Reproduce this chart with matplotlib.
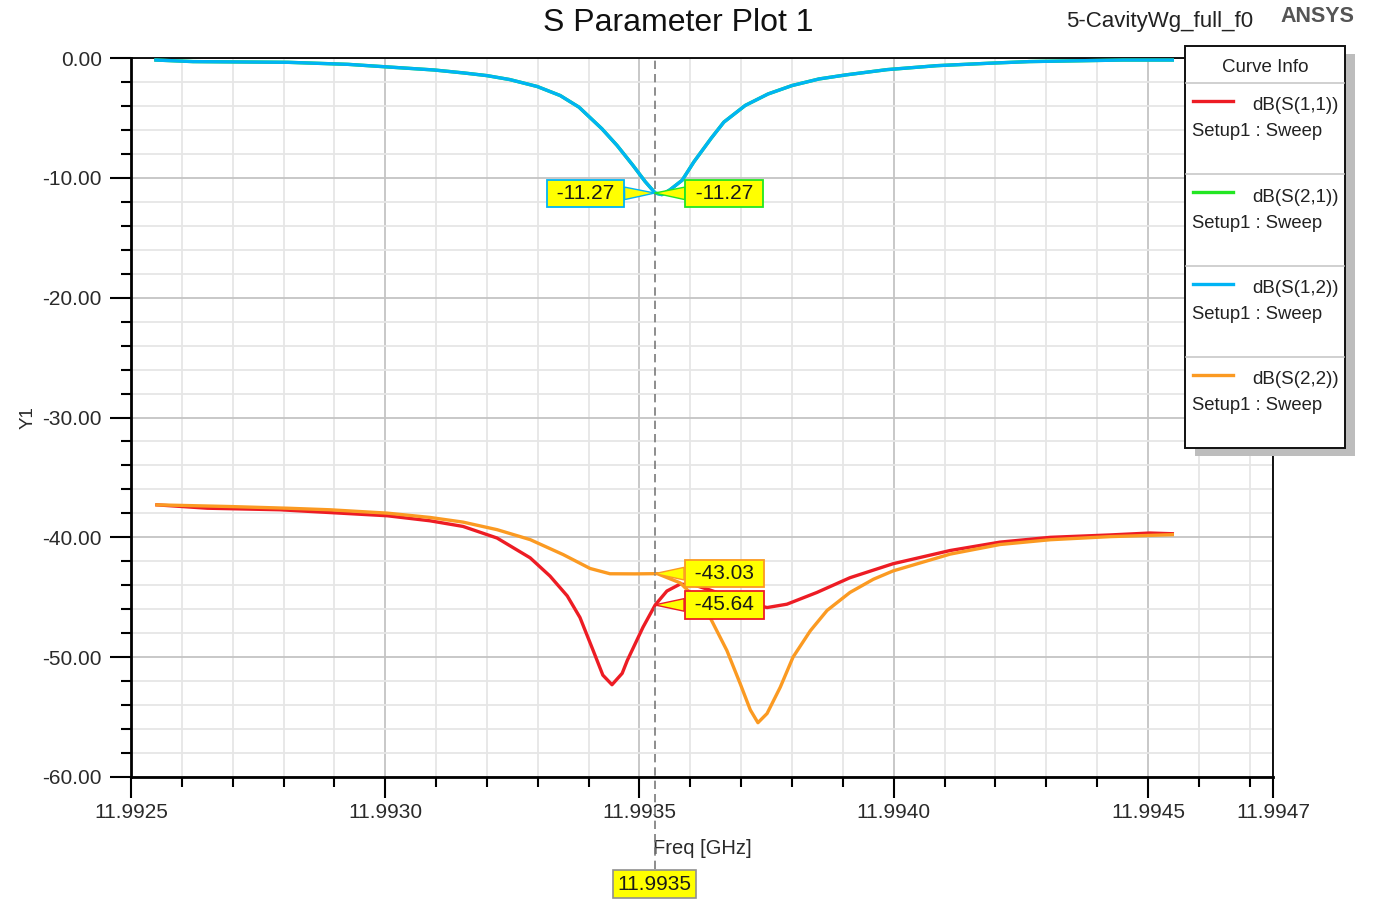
import numpy as np
import matplotlib.pyplot as plt
from matplotlib.patches import Rectangle
from matplotlib.lines import Line2D
from matplotlib.ticker import MultipleLocator, FixedLocator

plt.rcParams['font.family'] = ['Liberation Sans', 'DejaVu Sans']

# S21 / S12 (identical curves, transmission)
freq_s12 = [11.992549, 11.992622, 11.992809, 11.992927, 11.993006, 11.993096,
            11.993155, 11.993200, 11.993245, 11.993299, 11.993344, 11.993381,
            11.993426, 11.993456, 11.993487, 11.993511, 11.993531, 11.993544,
            11.993560, 11.993584, 11.993607, 11.993641, 11.993666, 11.993708,
            11.993753, 11.993800, 11.993853, 11.993906, 11.993987, 11.994085,
            11.994186, 11.994266, 11.994451, 11.994548]
db_s12 = [-0.17, -0.30, -0.36, -0.53, -0.75, -1.00, -1.25, -1.47, -1.80, -2.38,
          -3.13, -4.10, -5.90, -7.30, -8.95, -10.30, -11.27, -11.40, -11.00,
          -10.20, -8.67, -6.70, -5.35, -3.96, -3.00, -2.30, -1.75, -1.41, -0.97,
          -0.64, -0.44, -0.30, -0.17, -0.17]

# S11
freq_s11 = [11.992551, 11.992650, 11.992793, 11.993004, 11.993088, 11.993153,
            11.993220, 11.993285, 11.993324, 11.993358, 11.993383, 11.993409,
            11.993428, 11.993446, 11.993466, 11.993476, 11.993507, 11.993531,
            11.993554, 11.993580, 11.993609, 11.993639, 11.993698, 11.993751,
            11.993790, 11.993849, 11.993914, 11.993999, 11.994111, 11.994209,
            11.994308, 11.994426, 11.994504, 11.994548]
db_s11 = [-37.29, -37.57, -37.70, -38.20, -38.62, -39.09, -40.06, -41.71, -43.23,
          -44.89, -46.69, -49.45, -51.50, -52.30, -51.35, -50.28, -47.50, -45.64,
          -44.48, -43.90, -44.00, -44.40, -45.30, -45.86, -45.58, -44.60, -43.37,
          -42.20, -41.10, -40.40, -40.00, -39.80, -39.64, -39.70]

# S22
freq_s22 = [11.992551, 11.992695, 11.992807, 11.992891, 11.993004, 11.993088,
            11.993153, 11.993220, 11.993285, 11.993350, 11.993403, 11.993442,
            11.993491, 11.993535, 11.993580, 11.993609, 11.993639, 11.993672,
            11.993698, 11.993718, 11.993733, 11.993751, 11.993777, 11.993802,
            11.993836, 11.993869, 11.993914, 11.993960, 11.993999, 11.994111,
            11.994209, 11.994308, 11.994426, 11.994548]
db_s22 = [-37.29, -37.43, -37.57, -37.70, -37.98, -38.34, -38.73, -39.36, -40.19,
          -41.44, -42.60, -43.04, -43.05, -43.03, -43.80, -45.00, -46.70, -49.45,
          -52.20, -54.40, -55.47, -54.70, -52.50, -50.00, -47.80, -46.10, -44.60,
          -43.50, -42.80, -41.40, -40.60, -40.20, -39.94, -39.78]

# marker
marker_freq = 11.99353
marker_label = "11.9935"
marker_vals = {"s12": -11.27, "s21": -11.27, "s22": -43.03, "s11": -45.64}

x_min, x_max = 11.9925, 11.994746
x_major = [11.9925, 11.9930, 11.9935, 11.9940, 11.9945]
x_labels = ["11.9925", "11.9930", "11.9935", "11.9940", "11.9945", "11.9947"]

c_red = '#ed1c24'
c_green = '#22e622'
c_blue = '#00b4f5'
c_orange = '#fb9a22'

W, H = 1375, 902
fig = plt.figure(figsize=(W / 100, H / 100), dpi=100)
ax = fig.add_axes([131 / W, 1 - 777 / H, (1273 - 131) / W, (777 - 58) / H])

lw = 2.4
ax.plot(freq_s11, db_s11, color=c_red, lw=lw, zorder=3)
ax.plot(freq_s12, db_s12, color=c_green, lw=lw, zorder=3)
ax.plot(freq_s12, db_s12, color=c_blue, lw=lw, zorder=3)
ax.plot(freq_s22, db_s22, color=c_orange, lw=lw, zorder=3)

ax.set_xlim(x_min, x_max)
ax.set_ylim(-60, 0)

ax.xaxis.set_major_locator(FixedLocator(x_major + [x_max]))
ax.set_xticklabels(x_labels)
ax.xaxis.set_minor_locator(MultipleLocator(0.0001))
ax.yaxis.set_major_locator(MultipleLocator(10))
ax.yaxis.set_minor_locator(MultipleLocator(2))
ax.yaxis.set_major_formatter(lambda v, p: f"{v:.2f}")

ax.tick_params(which='major', length=15, width=1.5, labelsize=15,
               labelcolor='#2a2a2a', pad=4)
ax.tick_params(axis='y', which='major', pad=6)
ax.tick_params(which='minor', length=7, width=1.5)

ax.grid(which='major', color='#c4c4c4', lw=1.3, zorder=0)
ax.grid(which='minor', color='#e6e6e6', lw=1.3, zorder=0)
ax.set_axisbelow(True)

for s in ['left', 'bottom']:
    ax.spines[s].set_linewidth(2)
for s in ['top', 'right']:
    ax.spines[s].set_linewidth(1.3)

ax.set_xlabel("Freq [GHz]", fontsize=14.5, color='#2a2a2a', labelpad=12)
ax.set_ylabel("Y1", fontsize=13.5, color='#2a2a2a', labelpad=4)

# marker line
ax.axvline(marker_freq, ymin=-0.128, ymax=1, color='#7a7a7a', lw=1.2,
           ls=(0, (5, 3)), clip_on=False, zorder=4)
ax.annotate(marker_label, xy=(marker_freq, -0.149), xycoords=('data', 'axes fraction'),
            ha='center', va='center', fontsize=15, color='#1a1a1a',
            bbox=dict(boxstyle='square,pad=0.22', fc='#ffff00', ec='#909090', lw=1.2),
            annotation_clip=False, zorder=6)

# marker callouts
callouts = [("s12", c_blue, -50), ("s21", c_green, 50),
            ("s22", c_orange, 50), ("s11", c_red, 50)]
for key, col, dx in callouts:
    val = marker_vals[key]
    dy = 0
    if key == "s12" or key == "s21":
        dy = -0.5
    ax.annotate(f" {val:.2f} ", xy=(marker_freq, val), xytext=(dx, dy),
                textcoords='offset points', ha='center', va='center',
                fontsize=15, color='#1a1a1a',
                bbox=dict(boxstyle='square,pad=0.2', fc='#ffff00', ec=col, lw=1.3),
                arrowprops=dict(arrowstyle='wedge,tail_width=0.6,shrink_factor=0.5',
                                fc='#ffff00', ec=col, lw=1.0, shrinkA=0, shrinkB=0),
                zorder=6)

# titles
fig.text(678 / W, 1 - 23 / H, "S Parameter Plot 1", ha='center', va='center',
         fontsize=23, color='#111111')
fig.text(1160 / W, 1 - 21 / H, "5-CavityWg_full_f0", ha='center', va='center',
         fontsize=16, color='#222222')
fig.text(1317 / W, 1 - 16 / H, "ANSYS", ha='center', va='center',
         fontsize=15.5, color='#555555', fontweight='bold')


# legend box (Curve Info)
def fx(px):
    return px / W


def fy(py):
    return 1 - py / H


lx0, lx1, ly0, ly1 = 1185, 1345, 46, 448
fig.patches.append(Rectangle((fx(lx0 + 10), fy(ly1 + 8)), fx(lx1 - lx0), (ly1 - ly0) / H,
                             transform=fig.transFigure, fc='#bdbdbd', ec='none', zorder=8))
fig.patches.append(Rectangle((fx(lx0), fy(ly1)), fx(lx1 - lx0), (ly1 - ly0) / H,
                             transform=fig.transFigure, fc='white', ec='#111111', lw=1.4, zorder=9))
fig.text(fx(1265), fy(68), "Curve Info", ha='center', va='center', fontsize=13.5,
         color='#222222', zorder=10)
for yy in [83, 174, 266, 357]:
    fig.lines.append(Line2D([fx(lx0 + 1), fx(lx1 - 1)], [fy(yy), fy(yy)],
                            transform=fig.transFigure, color='#c8c8c8', lw=1.2, zorder=10))

legend_names = ["dB(S(1,1))", "dB(S(2,1))", "dB(S(1,2))", "dB(S(2,2))"]
legend_cols = [c_red, c_green, c_blue, c_orange]
for i, (nm, col) in enumerate(zip(legend_names, legend_cols)):
    y0 = 101 + i * 91.3
    fig.lines.append(Line2D([fx(1193), fx(1233)], [fy(y0), fy(y0)],
                            transform=fig.transFigure, color=col, lw=2.4, zorder=10))
    fig.text(fx(1339), fy(y0 + 5), nm, ha='right', va='center', fontsize=13.5,
             color='#222222', zorder=10)
    fig.text(fx(1192), fy(y0 + 31), "Setup1 : Sweep", ha='left', va='center',
             fontsize=13.3, color='#222222', zorder=10)

fig.savefig("out.png", dpi=100)
